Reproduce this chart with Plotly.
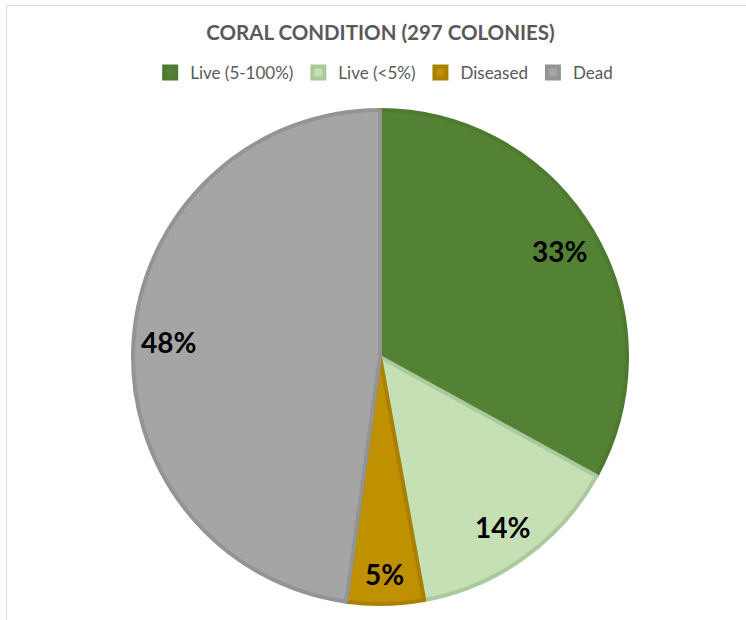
import math
import plotly.graph_objects as go

categories = ["Live (5-100%)", "Live (<5%)", "Diseased", "Dead"]
colonies = [98, 42, 15, 142]
fill_colors = ["#548235", "#C5E0B4", "#BF9000", "#A5A5A5"]
edge_colors = ["#4E7A30", "#ABC99C", "#A98000", "#949494"]
title_text = "CORAL CONDITION (297 COLONIES)"

W, H = 746, 620
cx, cy, r = 380, 357, 247
label_size = 28

fig = go.Figure(go.Pie(
    labels=categories,
    values=colonies,
    sort=False,
    direction="clockwise",
    rotation=0,
    marker=dict(colors=fill_colors, line=dict(color=edge_colors, width=4)),
    textinfo="none",
    domain=dict(x=[(cx - r) / W, (cx + r) / W], y=[1 - (cy + r) / H, 1 - (cy - r) / H]),
    hoverinfo="label+percent",
))

# data labels placed "inside end" like the original, at each slice's mid-angle
total = sum(colonies)
annotations = []
cum = 0
for v in colonies:
    mid = (cum + v / 2) / total * 2 * math.pi
    cum += v
    txt = f"{round(100 * v / total)}%"
    hw = 0.33 * label_size * len(txt) * 0.62
    hh = 0.45 * label_size
    rl = r - (hw * abs(math.sin(mid)) + hh * abs(math.cos(mid))) - 17
    x = cx + rl * math.sin(mid)
    y = cy - rl * math.cos(mid)
    annotations.append(dict(
        x=x / W, y=1 - y / H, xref="paper", yref="paper", showarrow=False,
        text="<b>" + txt + "</b>", xanchor="center", yanchor="middle",
        font=dict(family="Lato", size=label_size, color="#000000"),
    ))

fig.update_layout(
    width=W, height=H,
    margin=dict(l=0, r=0, t=0, b=0),
    paper_bgcolor="#FFFFFF",
    title=dict(text="<b>" + title_text + "</b>", x=0.51, xanchor="center",
               y=1 - 33 / H, yanchor="middle", yref="paper",
               font=dict(family="Lato", size=20.5, color="#595959")),
    legend=dict(orientation="h", x=0.515, xanchor="center", y=1 - 73 / H, yanchor="middle",
                font=dict(family="Lato", size=17, color="#595959"), traceorder="normal",
                itemwidth=30),
    annotations=annotations,
    shapes=[dict(type="rect", xref="paper", yref="paper", x0=6.5 / W, x1=1.05, y0=-0.05, y1=1 - 5.5 / H,
                 line=dict(color="#D9D9D9", width=1), fillcolor="rgba(0,0,0,0)", layer="below")],
)

fig.write_html("out.html")
